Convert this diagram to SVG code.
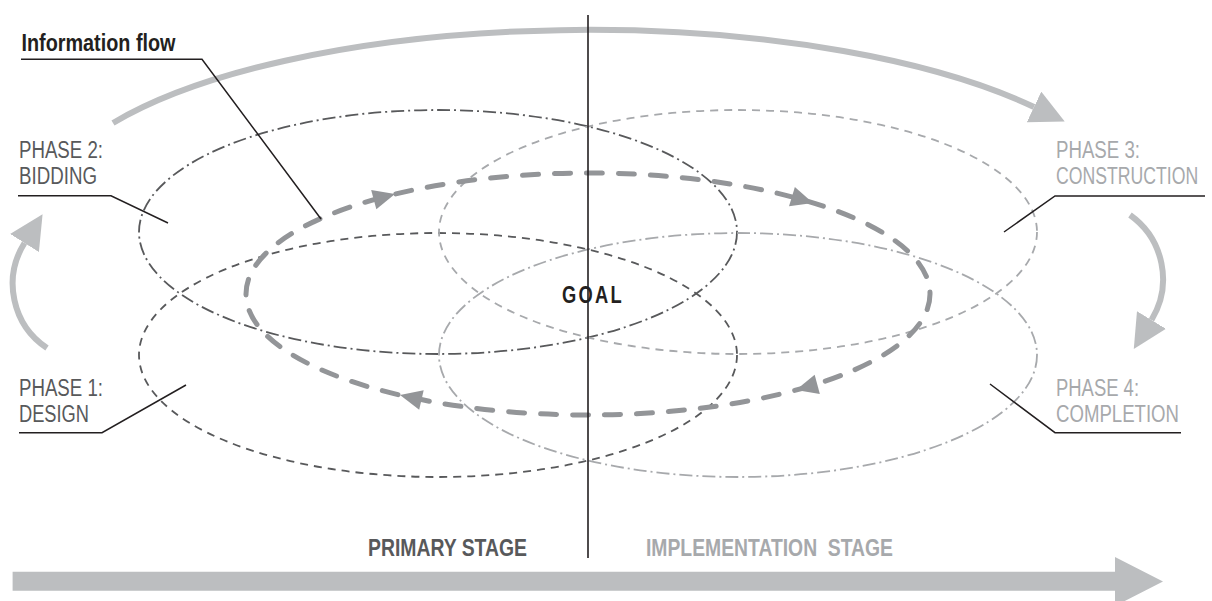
<svg xmlns="http://www.w3.org/2000/svg" width="1212" height="601" viewBox="0 0 1212 601">
  <style>
    .lbl { font-family: "Liberation Sans Narrow", "Liberation Sans", Arial, sans-serif; font-size: 23px; }
    .bold { font-weight: bold; }
    .dark { fill: #58595b; }
    .light { fill: #a7a9ac; }
    .ink { fill: #231f20; }
    .leader { fill: none; stroke: #231f20; stroke-width: 1.5; }
    .ring { fill: none; stroke-width: 1.8; }
    .dashdot { stroke-dasharray: 13 4 2 4; }
    .dashed { stroke-dasharray: 8 6; }
    .sweep { fill: none; stroke: #bcbec0; stroke-width: 6; }
    .flow { fill: none; stroke: #939598; stroke-width: 5; stroke-linecap: round; stroke-dasharray: 16 16; }
  </style>
  <defs>
    <marker id="bigHead" markerUnits="userSpaceOnUse" markerWidth="34" markerHeight="34" viewBox="0 0 34 34" refX="0" refY="17" orient="auto">
      <path d="M0,0 L34,17 L0,34 Z" fill="#bcbec0"/>
    </marker>
    <path id="flowHead" d="M0,0 L-22,-10 L-22,10 Z" fill="#939598"/>
  </defs>

  <!-- phase rings -->
  <g id="phase1">
    <ellipse class="ring dashed" cx="438" cy="355" rx="299" ry="122" stroke="#58595b"/>
    <polyline class="leader" points="19,432.7 102,432.7 186,385"/>
    <text class="lbl dark" x="19" y="396" textLength="84" lengthAdjust="spacingAndGlyphs">PHASE 1:</text>
    <text class="lbl dark" x="19" y="422" textLength="70" lengthAdjust="spacingAndGlyphs">DESIGN</text>
  </g>
  <g id="phase2">
    <ellipse class="ring dashdot" cx="438" cy="232" rx="299" ry="122" stroke="#58595b"/>
    <polyline class="leader" points="18,195.7 111,195.7 168,223"/>
    <text class="lbl dark" x="19" y="158" textLength="84" lengthAdjust="spacingAndGlyphs">PHASE 2:</text>
    <text class="lbl dark" x="19" y="184" textLength="78" lengthAdjust="spacingAndGlyphs">BIDDING</text>
  </g>
  <g id="phase3">
    <ellipse class="ring dashed" cx="738" cy="232" rx="299" ry="122" stroke="#a7a9ac"/>
    <polyline class="leader" points="1205,196 1055,196 1004,232"/>
    <text class="lbl light" x="1056" y="158" textLength="84" lengthAdjust="spacingAndGlyphs">PHASE 3:</text>
    <!-- long word: condensed by scaling so its box stays inside the frame -->
    <text class="lbl light" transform="translate(1056,184) scale(0.768,1)">CONSTRUCTION</text>
  </g>
  <g id="phase4">
    <ellipse class="ring dashdot" cx="738" cy="355" rx="299" ry="122" stroke="#a7a9ac"/>
    <polyline class="leader" points="1181,432.7 1055,432.7 990,384"/>
    <text class="lbl light" x="1056" y="396" textLength="83" lengthAdjust="spacingAndGlyphs">PHASE 4:</text>
    <text class="lbl light" x="1056" y="422" textLength="123" lengthAdjust="spacingAndGlyphs">COMPLETION</text>
  </g>

  <!-- connectors: phase sweeps, information loop, timeline -->
  <g id="connectors">
    <path class="sweep" d="M113,123 A545,182 0 0 1 1034,107" marker-end="url(#bigHead)"/>
    <path class="sweep" d="M47,348 A77,77 0 0 1 24.5,243" marker-end="url(#bigHead)"/>
    <path class="sweep" d="M1130,215 A78.6,78.6 0 0 1 1151.5,320" marker-end="url(#bigHead)"/>
    <ellipse class="flow" cx="588" cy="294" rx="342" ry="121"/>
    <use href="#flowHead" transform="translate(395,194) rotate(-15)"/>
    <use href="#flowHead" transform="translate(813,203) rotate(17)"/>
    <use href="#flowHead" transform="translate(796,390) rotate(165)"/>
    <use href="#flowHead" transform="translate(400,395) rotate(193)"/>
    <path d="M12.6,571.7 L1115,571.7 L1115,557 L1163,581.5 L1115,606 L1115,590.7 L12.6,590.7 Z" fill="#bcbec0"/>
  </g>

  <g id="info-flow">
    <polyline class="leader" points="21,59.3 202,59.3 321,219"/>
    <text class="lbl bold ink" x="21.5" y="50.5" style="font-size:24px" textLength="154" lengthAdjust="spacingAndGlyphs">Information flow</text>
  </g>

  <g id="divider">
    <line x1="588" y1="15" x2="588" y2="558" stroke="#231f20" stroke-width="1.6"/>
  </g>

  <g id="goal">
    <text class="lbl bold ink" x="562" y="303" style="font-size:24px; letter-spacing:3px" textLength="62" lengthAdjust="spacingAndGlyphs">GOAL</text>
  </g>

  <g id="stages">
    <text class="lbl bold dark" x="368" y="556" style="font-size:24px" textLength="159" lengthAdjust="spacingAndGlyphs">PRIMARY STAGE</text>
    <text class="lbl bold light" x="646" y="556" style="font-size:24px; white-space:pre" textLength="247" lengthAdjust="spacingAndGlyphs">IMPLEMENTATION  STAGE</text>
  </g>
</svg>
